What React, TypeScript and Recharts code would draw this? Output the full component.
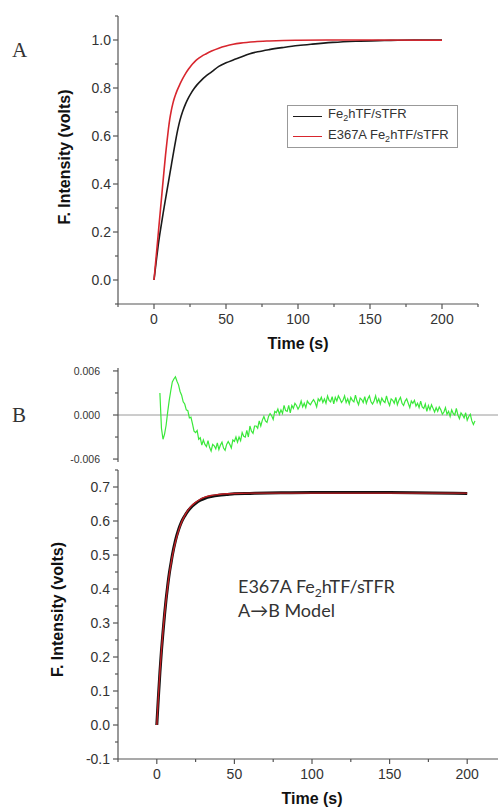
import React from "react";
import { LineChart, Line, XAxis, YAxis, ReferenceLine, Legend } from "recharts";

// Panel A: Fe2hTF/sTFR (black) vs E367A Fe2hTF/sTFR (red)
const aBlackT = [0, 1, 2, 3, 4, 5, 6, 7, 8, 9, 10, 11, 12, 13, 14, 15, 16, 17, 18, 20, 22, 24, 26, 28, 30, 33, 36, 40, 45, 50, 55, 60, 66, 72, 80, 90, 100, 110, 124, 140, 160, 180, 200];
const aBlackV = [0, 0.05, 0.1, 0.148, 0.19, 0.228, 0.265, 0.302, 0.337, 0.372, 0.407, 0.442, 0.477, 0.512, 0.546, 0.58, 0.612, 0.64, 0.665, 0.704, 0.735, 0.76, 0.781, 0.799, 0.814, 0.833, 0.849, 0.867, 0.89, 0.905, 0.917, 0.928, 0.942, 0.951, 0.96, 0.969, 0.977, 0.983, 0.99, 0.995, 0.998, 1.0, 1.0];
const aRedT = [0, 1, 2, 3, 4, 5, 6, 7, 8, 9, 10, 11, 12, 13, 14, 15, 16, 18, 20, 22, 24, 26, 28, 30, 33, 36, 40, 45, 50, 55, 60, 70, 80, 90, 100, 120, 150, 200];
const aRedV = [0, 0.065, 0.13, 0.196, 0.262, 0.327, 0.393, 0.458, 0.52, 0.576, 0.628, 0.672, 0.706, 0.733, 0.755, 0.773, 0.789, 0.816, 0.84, 0.861, 0.879, 0.895, 0.908, 0.919, 0.932, 0.942, 0.954, 0.966, 0.975, 0.982, 0.987, 0.993, 0.996, 0.998, 0.999, 1.0, 1.0, 0.999];
const legendOrder = ["Fe2hTF/sTFR", "E367A Fe2hTF/sTFR"];

// Panel B: E367A data (black) and A->B fit (red)
const bT = [0, 1, 2, 3, 4, 5, 6, 7, 8, 9, 10, 12, 14, 16, 18, 20, 22, 25, 28, 31, 35, 40, 45, 50, 60, 80, 100, 150, 200];
const bDataV = [0, 0.08, 0.154, 0.219, 0.273, 0.325, 0.37, 0.409, 0.444, 0.472, 0.499, 0.542, 0.574, 0.598, 0.615, 0.629, 0.64, 0.652, 0.661, 0.667, 0.672, 0.676, 0.678, 0.68, 0.681, 0.683, 0.684, 0.684, 0.681];
const bFitV = [0, 0.083, 0.156, 0.22, 0.276, 0.326, 0.369, 0.407, 0.441, 0.47, 0.496, 0.538, 0.571, 0.597, 0.616, 0.631, 0.643, 0.655, 0.664, 0.67, 0.675, 0.678, 0.68, 0.681, 0.682, 0.682, 0.682, 0.682, 0.682];

// residuals of the fit
const resT = [
  2, 3, 4, 5, 6, 7, 8, 9, 10, 11,
  12, 13, 14, 15, 16, 17, 18, 19, 20, 21,
  22, 23, 24, 25, 26, 27, 28, 29, 30, 31,
  32, 33, 34, 35, 36, 37, 38, 39, 40, 41,
  42, 43, 44, 45, 46, 47, 48, 49, 50, 51,
  52, 53, 54, 55, 56, 57, 58, 59, 60, 61,
  62, 63, 64, 65, 66, 67, 68, 69, 70, 71,
  72, 73, 74, 75, 76, 77, 78, 79, 80, 81,
  82, 83, 84, 85, 86, 87, 88, 89, 90, 91,
  92, 93, 94, 95, 96, 97, 98, 99, 100, 101,
  102, 103, 104, 105, 106, 107, 108, 109, 110, 111,
  112, 113, 114, 115, 116, 117, 118, 119, 120, 121,
  122, 123, 124, 125, 126, 127, 128, 129, 130, 131,
  132, 133, 134, 135, 136, 137, 138, 139, 140, 141,
  142, 143, 144, 145, 146, 147, 148, 149, 150, 151,
  152, 153, 154, 155, 156, 157, 158, 159, 160, 161,
  162, 163, 164, 165, 166, 167, 168, 169, 170, 171,
  172, 173, 174, 175, 176, 177, 178, 179, 180, 181,
  182, 183, 184, 185, 186, 187, 188, 189, 190, 191,
  192, 193, 194, 195, 196, 197, 198, 199, 200, 201,
  202, 203, 204, 205,
];
const resV = [
  3.0e-3, -1.8e-3, -3.3e-3, -2.6e-3, -1.4e-3, 0.4e-3, 2.0e-3, 3.3e-3, 4.5e-3, 4.9e-3,
  5.2e-3, 4.6e-3, 4.1e-3, 3.2e-3, 2.7e-3, 1.8e-3, 1.5e-3, 0.7e-3, 0.6e-3, -0.4e-3,
  -0.3e-3, -1.2e-3, -2.2e-3, -2.4e-3, -2.1e-3, -3.3e-3, -3.1e-3, -4.1e-3, -3.4e-3, -4.0e-3,
  -4.3e-3, -3.5e-3, -4.4e-3, -4.9e-3, -4.0e-3, -4.2e-3, -4.6e-3, -3.8e-3, -4.7e-3, -4.1e-3,
  -3.7e-3, -4.5e-3, -4.8e-3, -4.0e-3, -3.6e-3, -4.0e-3, -4.5e-3, -3.4e-3, -3.6e-3, -3.0e-3,
  -3.7e-3, -3.0e-3, -3.5e-3, -2.4e-3, -2.9e-3, -3.0e-3, -2.1e-3, -3.0e-3, -1.5e-3, -2.2e-3,
  -2.5e-3, -1.5e-3, -1.5e-3, -1.8e-3, -0.8e-3, -1.5e-3, -0.7e-3, -0.2e-3, -0.8e-3, -1.0e-3,
  -0.2e-3, 0.2e-3, -0.1e-3, -0.6e-3, 0.5e-3, 0.3e-3, 0.8e-3, 0.1e-3, 0.7e-3, 0.2e-3,
  1.3e-3, 0.6e-3, 0.5e-3, 1.3e-3, 0.3e-3, 1.3e-3, 0.9e-3, 1.6e-3, 1.3e-3, 0.8e-3,
  1.2e-3, 1.9e-3, 1.1e-3, 1.6e-3, 1.0e-3, 1.9e-3, 1.6e-3, 1.4e-3, 1.8e-3, 2.1e-3,
  1.7e-3, 1.1e-3, 2.2e-3, 1.9e-3, 2.4e-3, 1.7e-3, 2.2e-3, 1.6e-3, 2.6e-3, 2.0e-3,
  1.8e-3, 2.5e-3, 1.5e-3, 2.4e-3, 1.9e-3, 2.6e-3, 2.2e-3, 1.7e-3, 2.0e-3, 2.6e-3,
  1.7e-3, 2.2e-3, 1.5e-3, 2.4e-3, 2.0e-3, 1.8e-3, 2.7e-3, 1.9e-3, 1.4e-3, 2.3e-3,
  2.1e-3, 1.7e-3, 2.5e-3, 1.6e-3, 2.2e-3, 2.6e-3, 1.8e-3, 1.5e-3, 1.9e-3, 2.6e-3,
  1.7e-3, 2.2e-3, 1.5e-3, 2.3e-3, 1.9e-3, 1.7e-3, 2.6e-3, 1.8e-3, 1.3e-3, 2.2e-3,
  2.0e-3, 1.6e-3, 2.4e-3, 1.4e-3, 2.0e-3, 2.4e-3, 1.6e-3, 1.3e-3, 1.9e-3, 2.2e-3,
  1.6e-3, 1.0e-3, 1.9e-3, 1.6e-3, 2.0e-3, 1.2e-3, 1.6e-3, 1.0e-3, 1.9e-3, 1.1e-3,
  0.9e-3, 1.5e-3, 0.5e-3, 1.3e-3, 0.7e-3, 1.4e-3, 0.9e-3, 0.4e-3, 1.0e-3, 0.5e-3,
  1.1e-3, 0.7e-3, 0.1e-3, 0.4e-3, 1.0e-3, 0.1e-3, 0.5e-3, -0.2e-3, 0.7e-3, 0.2e-3,
  0.0, 0.9e-3, 0.0, -0.5e-3, 0.3e-3, 0.0, -0.4e-3, 0.3e-3, -0.7e-3, -0.2e-3,
  0.1e-3, -0.8e-3, -1.3e-3, -0.8e-3,
];

// axis ticks
const timeTicks = [-25, 0, 25, 50, 75, 100, 125, 150, 175, 200, 225];
const timeMajor = [0, 50, 100, 150, 200];
const aTicks = [-0.1, 0, 0.1, 0.2, 0.3, 0.4, 0.5, 0.6, 0.7, 0.8, 0.9, 1.0, 1.1];
const aMajor = [0, 0.2, 0.4, 0.6, 0.8, 1.0];
const resTicks = [-0.006, -0.003, 0, 0.003, 0.006];
const resMajor = [-0.006, 0, 0.006];
const bTicks = [-0.1, -0.05, 0, 0.05, 0.1, 0.15, 0.2, 0.25, 0.3, 0.35, 0.4, 0.45, 0.5, 0.55, 0.6, 0.65, 0.7, 0.75];
const bMajor = [-0.1, 0, 0.1, 0.2, 0.3, 0.4, 0.5, 0.6, 0.7];

const toRows = (t: number[], v: number[]) => t.map((x, i) => ({ t: x, v: v[i] }));

const axisColor = "#555";
const tickColor = "#333";
const sans = "'Liberation Sans', Arial, sans-serif";

const isMajor = (v: number, majors: number[]) => majors.some((m) => Math.abs(m - v) < 1e-9);

const yTick = (majors: number[], digits: number, fontSize: number, gap: number) => (p: any) => {
  const major = isMajor(p.payload.value, majors);
  return (
    <g>
      <line x1={p.x - (major ? 5 : 3)} x2={p.x} y1={p.y} y2={p.y} stroke={axisColor} strokeWidth={1.2} />
      {major && (
        <text x={p.x - gap} y={p.y} dy="0.36em" textAnchor="end" fontSize={fontSize} fontFamily={sans} fill={tickColor}>
          {p.payload.value.toFixed(digits)}
        </text>
      )}
    </g>
  );
};

const xTick = (p: any) => {
  const major = isMajor(p.payload.value, timeMajor);
  return (
    <g>
      <line x1={p.x} x2={p.x} y1={p.y} y2={p.y + (major ? 5 : 3)} stroke={axisColor} strokeWidth={1.2} />
      {major && (
        <text x={p.x} y={p.y + 20} textAnchor="middle" fontSize={14} fontFamily={sans} fill={tickColor}>
          {p.payload.value}
        </text>
      )}
    </g>
  );
};

const yTitle = (value: string, cx: number, shift: number) => ({
  content: (p: any) => {
    const vb = p.viewBox || { y: 0, height: 0 };
    const cy = vb.y + vb.height / 2 + shift;
    return (
      <text x={cx} y={cy} transform={`rotate(-90 ${cx} ${cy})`} textAnchor="middle" dominantBaseline="central" fontSize={16} fontWeight="bold" fontFamily={sans} fill="#111">
        {value}
      </text>
    );
  },
});

const withSub = (s: string) => {
  const parts = s.split("Fe2");
  return parts.map((part, i) => (
    <React.Fragment key={i}>
      {i > 0 && (
        <>
          Fe<sub style={{ fontSize: 9, verticalAlign: "-3px" }}>2</sub>
        </>
      )}
      {part}
    </React.Fragment>
  ));
};

const renderLegend = (props: any) => {
  const items = [...(props.payload || [])].sort((a: any, b: any) => legendOrder.indexOf(a.value) - legendOrder.indexOf(b.value));
  return (
    <div style={{ border: "1px solid #999", background: "#fff", width: 169, height: 41, fontFamily: sans, fontSize: 13, color: tickColor, whiteSpace: "nowrap" }}>
      {items.map((p: any) => (
        <div key={p.value} style={{ display: "flex", alignItems: "center", height: 20.5, lineHeight: "14px" }}>
          <span style={{ display: "inline-block", width: 29, borderTop: `1.6px solid ${p.color}`, margin: "0 6px 0 5px" }} />
          <span>{withSub(p.value)}</span>
        </div>
      ))}
    </div>
  );
};

const axisLine = { stroke: axisColor, strokeWidth: 1.2 };

export default function App() {
  return (
    <div style={{ position: "absolute", left: 0, top: 0, width: 498, height: 809, overflow: "hidden", background: "#fff" }}>
      {/* panel A */}
      <div style={{ position: "absolute", left: 0, top: 0 }}>
        <LineChart width={498} height={360} margin={{ top: 16, right: 20, bottom: 0, left: 0 }}>
          <XAxis
            type="number"
            dataKey="t"
            domain={[-25, 225]}
            ticks={timeTicks}
            interval={0}
            tickSize={0}
            tickMargin={0}
            tickLine={false}
            axisLine={axisLine}
            tick={xTick}
            height={56}
            label={{ value: "Time (s)", position: "insideBottom", offset: 11, fontSize: 16, fontWeight: "bold", fontFamily: sans, fill: "#111" }}
          />
          <YAxis
            type="number"
            domain={[-0.1, 1.1]}
            ticks={aTicks}
            interval={0}
            width={118}
            tickSize={0}
            tickMargin={0}
            tickLine={false}
            axisLine={axisLine}
            tick={yTick(aMajor, 1, 14, 7)}
            label={yTitle("F. Intensity (volts)", 64, -3)}
          />
          <Legend layout="vertical" align="center" verticalAlign="middle" content={renderLegend} wrapperStyle={{ left: 287, top: 105, width: 171, height: 43 }} />
          <Line data={toRows(aBlackT, aBlackV)} dataKey="v" name="Fe2hTF/sTFR" type="monotone" stroke="#1a1a1a" strokeWidth={1.6} dot={false} isAnimationActive={false} />
          <Line data={toRows(aRedT, aRedV)} dataKey="v" name="E367A Fe2hTF/sTFR" type="monotone" stroke="#d8262e" strokeWidth={1.6} dot={false} isAnimationActive={false} />
        </LineChart>
      </div>

      {/* panel B residuals */}
      <div style={{ position: "absolute", left: 0, top: 350 }}>
        <LineChart width={520} height={120} margin={{ top: 18, right: 14, bottom: 8, left: 0 }}>
          <XAxis type="number" dataKey="t" domain={[-25, 225]} hide />
          <YAxis
            type="number"
            domain={[-0.0064, 0.0064]}
            allowDataOverflow
            ticks={resTicks}
            interval={0}
            width={118}
            tickSize={0}
            tickMargin={0}
            tickLine={false}
            axisLine={axisLine}
            tick={yTick(resMajor, 3, 10.5, 18)}
          />
          <ReferenceLine y={0} stroke="#9a9a9a" strokeWidth={1} />
          <Line data={toRows(resT, resV)} dataKey="v" type="linear" stroke="#3ae83a" strokeWidth={1.2} dot={false} isAnimationActive={false} />
        </LineChart>
      </div>

      {/* panel B fit */}
      <div style={{ position: "absolute", left: 0, top: 460 }}>
        <LineChart width={520} height={349} margin={{ top: 10, right: 14, bottom: 0, left: 0 }}>
          <XAxis
            type="number"
            dataKey="t"
            domain={[-25, 225]}
            ticks={timeTicks}
            interval={0}
            tickSize={0}
            tickMargin={0}
            tickLine={false}
            axisLine={axisLine}
            tick={xTick}
            height={50}
            label={{ value: "Time (s)", position: "insideBottom", offset: 5, fontSize: 16, fontWeight: "bold", fontFamily: sans, fill: "#111" }}
          />
          <YAxis
            type="number"
            domain={[-0.1, 0.75]}
            ticks={bTicks}
            interval={0}
            width={118}
            tickSize={0}
            tickMargin={0}
            tickLine={false}
            axisLine={axisLine}
            tick={yTick(bMajor, 1, 14, 8)}
            label={yTitle("F. Intensity (volts)", 57, -5)}
          />
          <Line data={toRows(bT, bDataV)} dataKey="v" type="monotone" stroke="#111" strokeWidth={3} dot={false} isAnimationActive={false} />
          <Line data={toRows(bT, bFitV)} dataKey="v" type="monotone" stroke="#c01f24" strokeWidth={1.4} dot={false} isAnimationActive={false} />
        </LineChart>
      </div>

      {/* panel letters and annotation */}
      <svg width={498} height={809} style={{ position: "absolute", left: 0, top: 0, pointerEvents: "none" }}>
        <text x={12} y={57} fontSize={21} fontFamily="'Liberation Serif', 'Times New Roman', serif" fill="#333">A</text>
        <text x={12} y={422} fontSize={21} fontFamily="'Liberation Serif', 'Times New Roman', serif" fill="#333">B</text>
        <text x={238} y={593} fontSize={18} fontFamily="Lato, 'Open Sans', sans-serif" fill="#333">
          E367A Fe<tspan fontSize={12} dy={4}>2</tspan>
          <tspan dy={-4}>hTF/sTFR</tspan>
        </text>
        <text x={238} y={617} fontSize={18} fontFamily="Lato, 'Open Sans', sans-serif" fill="#333">
          A→B Model
        </text>
      </svg>
    </div>
  );
}
